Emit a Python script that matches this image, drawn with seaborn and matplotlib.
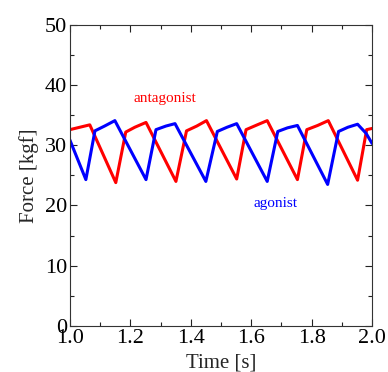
"""Antagonist / agonist force traces over one second."""

import matplotlib
matplotlib.use("Agg")
import matplotlib.pyplot as plt
import pandas as pd
import seaborn as sns
from matplotlib.ticker import MultipleLocator

# antagonist (red) trace
antagonist_t = [1.000, 1.066, 1.152, 1.185, 1.215, 1.252, 1.351, 1.386, 1.420,
                1.452, 1.552, 1.583, 1.620, 1.653, 1.753, 1.784, 1.820, 1.855,
                1.952, 1.982, 2.000]
antagonist_f = [32.6, 33.4, 23.8, 32.2, 33.0, 33.8, 24.0, 32.4, 33.2,
                34.1, 24.4, 32.6, 33.4, 34.1, 24.3, 32.6, 33.3, 34.1,
                24.2, 32.6, 32.8]

# agonist (blue) trace
agonist_t = [1.000, 1.053, 1.083, 1.115, 1.149, 1.252, 1.285, 1.318, 1.348,
             1.450, 1.488, 1.520, 1.552, 1.653, 1.688, 1.720, 1.753, 1.853,
             1.889, 1.920, 1.952, 1.980, 2.000]
agonist_f = [30.9, 24.3, 32.4, 33.2, 34.1, 24.3, 32.6, 33.2, 33.6,
             24.0, 32.3, 33.0, 33.6, 24.0, 32.3, 32.9, 33.3, 23.5,
             32.3, 33.0, 33.5, 32.0, 30.3]

x_ticks = [1.0, 1.2, 1.4, 1.6, 1.8, 2.0]
y_ticks = [0, 10, 20, 30, 40, 50]


def main() -> None:
    sns.set_style("ticks")
    plt.rcParams["font.family"] = ["Liberation Serif", "DejaVu Serif"]

    df_ant = pd.DataFrame({"Time": antagonist_t, "Force": antagonist_f})
    df_ago = pd.DataFrame({"Time": agonist_t, "Force": agonist_f})

    fig = plt.figure(figsize=(3.88, 3.72), dpi=100)
    ax = fig.add_axes([0.180, 0.124, 0.779, 0.809])

    sns.lineplot(data=df_ant, x="Time", y="Force", color="#ff0000", lw=2.2,
                 sort=False, ax=ax)
    sns.lineplot(data=df_ago, x="Time", y="Force", color="#0000ff", lw=2.2,
                 sort=False, ax=ax)

    ax.text(1.315, 37.7, "antagonist", color="#ff0000", fontsize=11,
            ha="center", va="center")
    ax.text(1.682, 20.4, "agonist", color="#0000ff", fontsize=11,
            ha="center", va="center")

    ax.set_xlim(1.0, 2.0)
    ax.set_ylim(0, 50)
    ax.set_xticks(x_ticks)
    ax.set_xticklabels([f"{v:.1f}" for v in x_ticks])
    ax.set_yticks(y_ticks)
    ax.xaxis.set_minor_locator(MultipleLocator(0.1))
    ax.yaxis.set_minor_locator(MultipleLocator(5))
    ax.tick_params(which="both", direction="in", top=True, right=True,
                   width=0.8, colors="#222222", labelcolor="black")
    ax.tick_params(which="major", length=5, labelsize=16, pad=2)
    ax.tick_params(which="minor", length=3)

    for spine in ax.spines.values():
        spine.set_visible(True)
        spine.set_linewidth(0.8)
        spine.set_color("#333333")

    ax.set_xlabel("Time [s]", fontsize=15, labelpad=4)
    ax.set_ylabel("Force [kgf]", fontsize=15, labelpad=4)

    fig.savefig("out.png", dpi=100)
    plt.close(fig)


if __name__ == "__main__":
    main()
